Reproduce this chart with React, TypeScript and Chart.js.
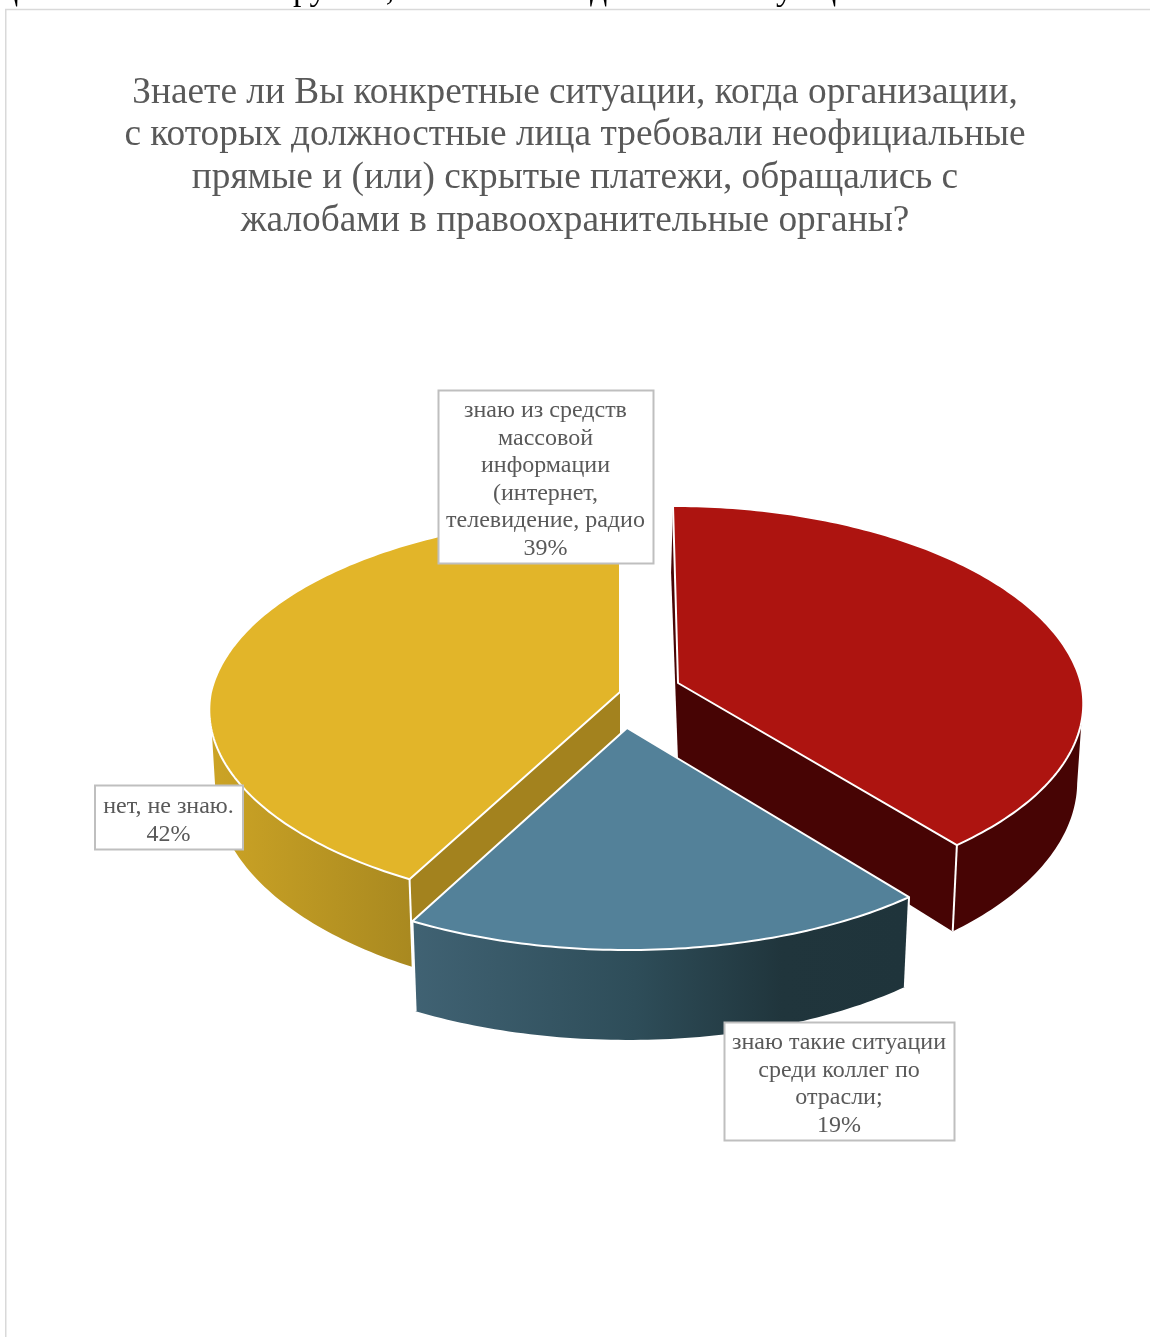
import React, { useEffect, useRef } from "react";
import { Chart, registerables } from "chart.js";

Chart.register(...registerables);

const categories = [
  "знаю из средств массовой информации (интернет, телевидение, радио",
  "знаю такие ситуации среди коллег по отрасли;",
  "нет, не знаю.",
];
const shares = [39, 19, 42];
const topColors = ["#ad1410", "#538199", "#e2b529"];
const titleLines = [
  "Знаете ли Вы конкретные ситуации, когда организации,",
  "с которых должностные лица требовали неофициальные",
  "прямые и (или) скрытые платежи, обращались с",
  "жалобами в правоохранительные органы?",
];
const labelLines = [
  ["знаю из средств", "массовой", "информации", "(интернет,", "телевидение, радио"],
  ["знаю такие ситуации", "среди коллег по", "отрасли;"],
  ["нет, не знаю."],
];

const GREY = "#595959";
const FONT = '"Liberation Serif", "Times New Roman", serif';
const P = 0.1155;
const TAU = Math.PI * 2;

// Geometry of the tilted pie, per slice
const sliceGeo = [
  { ax: 678, ay: 683, R: 403, kBack: 197.5, kFront: 191.6, leanBack: -5, leanFront: -4, flat: 0, bottomBack: -2, inner: "#470404", stops: [[0, "#470404"], [1, "#470404"]], gx: [900, 1090], drawOrder: 1 },
  { ax: 627, ay: 728, R: 402, kBack: 196.4, kFront: 196.4, leanBack: 0, leanFront: 1, flat: 7.4, bottomBack: 0, inner: "#1f343b", stops: [[0, "#406273"], [0.45, "#2e4d59"], [0.75, "#20353c"], [1, "#1f343b"]], gx: [414, 905], drawOrder: 2 },
  { ax: 620, ay: 692, R: 409, kBack: 196.4, kFront: 192, leanBack: 0, leanFront: 10, flat: 0, bottomBack: 0, inner: "#a3821e", stops: [[0, "#cba325"], [1, "#a98920"]], gx: [215, 411], drawOrder: 0 },
];

const labelBoxes = [
  { x: 438.5, y: 390.5, w: 215, h: 173, cy: 411 },
  { x: 724.5, y: 1022.5, w: 230, h: 118, cy: 1043 },
  { x: 95, y: 785.5, w: 148, h: 64, cy: 807 },
];

type Geo = (typeof sliceGeo)[number];

function pt(g: Geo, theta: number, bottom: boolean) {
  const u = Math.sin(theta);
  const v = -Math.cos(theta);
  const s = 1 / (1 - P * v);
  const k = v > 0 ? g.kFront : g.kBack;
  const lean = v > 0 ? g.leanFront : g.leanBack;
  const flat = v > 0 ? g.flat * u * u : 0;
  let dx = g.R * u * s + lean * Math.abs(v);
  let dy = k * v * s + flat;
  if (bottom) {
    dx *= 0.985;
    if (v < 0) dx += g.bottomBack * Math.abs(v);
    dy = dy * 1.058 + 77 + flat;
  }
  return { x: g.ax + dx, y: g.ay + dy };
}

function apex(g: Geo, bottom: boolean) {
  return { x: g.ax, y: g.ay + (bottom ? 77 : 0) };
}

function arcPath(ctx: CanvasRenderingContext2D, g: Geo, a: number, b: number, bottom: boolean, first: boolean) {
  const n = Math.max(2, Math.ceil(Math.abs(b - a) * 60));
  for (let i = 0; i <= n; i++) {
    const p = pt(g, a + ((b - a) * i) / n, bottom);
    if (i === 0 && first) ctx.moveTo(p.x, p.y);
    else ctx.lineTo(p.x, p.y);
  }
}

function edgeWall(ctx: CanvasRenderingContext2D, g: Geo, th: number) {
  const a = apex(g, false);
  const b = pt(g, th, false);
  const c = pt(g, th, true);
  const d = apex(g, true);
  ctx.beginPath();
  ctx.moveTo(a.x, a.y);
  ctx.lineTo(b.x, b.y);
  ctx.lineTo(c.x, c.y);
  ctx.lineTo(d.x, d.y);
  ctx.closePath();
  ctx.fillStyle = g.inner;
  ctx.fill();
}

const pie3d = {
  id: "pie3d",
  beforeDatasetsDraw(chart: any) {
    const ctx: CanvasRenderingContext2D = chart.ctx;
    const arcs = chart.getDatasetMeta(0).data;
    const order = sliceGeo.map((g, i) => ({ g, i })).sort((x, y) => x.g.drawOrder - y.g.drawOrder);
    ctx.save();
    ctx.lineJoin = "round";
    for (const { g, i } of order) {
      const a0 = arcs[i].startAngle + Math.PI / 2;
      const a1 = arcs[i].endAngle + Math.PI / 2;
      const eps = 1e-6;
      if (Math.sin(a0) <= eps) edgeWall(ctx, g, a0);
      if (Math.sin(a1) > eps) edgeWall(ctx, g, a1);
      // outer wall, only the part that faces the viewer
      const topA = Math.max(a0, 1.772), topB = Math.min(a1, TAU - 1.772);
      const botA = Math.max(a0, 1.686), botB = Math.min(a1, TAU - 1.686);
      if (topB > topA) {
        const grad = ctx.createLinearGradient(g.gx[0], 0, g.gx[1], 0);
        for (const [o, c] of g.stops) grad.addColorStop(o as number, c as string);
        ctx.beginPath();
        arcPath(ctx, g, topA, topB, false, true);
        arcPath(ctx, g, botB, botA, true, false);
        ctx.closePath();
        ctx.fillStyle = grad;
        ctx.fill();
        // white corner lines
        ctx.strokeStyle = "#ffffff";
        ctx.lineWidth = 2;
        for (const th of [a0, a1]) {
          if (th >= topA && th <= topB) {
            const p = pt(g, th, false);
            const q = pt(g, th, true);
            ctx.beginPath();
            ctx.moveTo(p.x, p.y);
            ctx.lineTo(q.x, q.y);
            ctx.stroke();
          }
        }
      }
      // top surface
      const ap = apex(g, false);
      ctx.beginPath();
      ctx.moveTo(ap.x, ap.y);
      arcPath(ctx, g, a0, a1, false, false);
      ctx.closePath();
      ctx.fillStyle = chart.data.datasets[0].backgroundColor[i];
      ctx.fill();
      ctx.strokeStyle = "#ffffff";
      ctx.lineWidth = 2;
      ctx.stroke();
    }
    ctx.restore();
    return false;
  },
  afterDraw(chart: any) {
    const ctx: CanvasRenderingContext2D = chart.ctx;
    ctx.save();
    // page frame
    ctx.strokeStyle = "#d9d9d9";
    ctx.lineWidth = 1.5;
    ctx.beginPath();
    ctx.moveTo(5.75, 1337);
    ctx.lineTo(5.75, 9.5);
    ctx.lineTo(1150, 9.5);
    ctx.stroke();
    // clipped line of the page text above the chart
    ctx.fillStyle = "#000000";
    ctx.font = `34px ${FONT}`;
    ctx.textAlign = "left";
    ctx.textBaseline = "alphabetic";
    ctx.fillText("ц", 0, 0);
    ctx.fillText("руппы,", 293, 0);
    ctx.fillText("д", 590, 0);
    ctx.fillText("у", 776, 0);
    ctx.fillText("ц", 818, 0);
    // data labels
    labelBoxes.forEach((b, i) => {
      ctx.fillStyle = "#ffffff";
      ctx.fillRect(b.x, b.y, b.w, b.h);
      ctx.strokeStyle = "#bfbfbf";
      ctx.lineWidth = 2;
      ctx.strokeRect(b.x, b.y, b.w, b.h);
      ctx.fillStyle = GREY;
      ctx.font = `24px ${FONT}`;
      ctx.textAlign = "center";
      ctx.textBaseline = "middle";
      const lines = [...labelLines[i], `${chart.data.datasets[0].data[i]}%`];
      lines.forEach((t, j) => ctx.fillText(t, b.x + b.w / 2 - 0.5, b.cy + j * 27.45));
    });
    ctx.restore();
  },
};

export default function App() {
  const ref = useRef<HTMLCanvasElement>(null);
  useEffect(() => {
    const chart = new Chart(ref.current as HTMLCanvasElement, {
      type: "pie",
      data: {
        labels: categories,
        datasets: [{ data: shares, backgroundColor: topColors, borderColor: "#ffffff" }],
      },
      options: {
        animation: false,
        responsive: false,
        devicePixelRatio: 1,
        plugins: {
          legend: { display: false },
          tooltip: { enabled: false },
          title: {
            display: true,
            text: titleLines,
            color: GREY,
            font: { family: FONT, size: 37.35, weight: "normal", lineHeight: 1.145 },
            padding: { top: 71.5, bottom: 10 },
          },
        },
      },
      plugins: [pie3d],
    } as any);
    return () => chart.destroy();
  }, []);
  return (
    <canvas
      ref={ref}
      width={1150}
      height={1337}
      style={{ position: "absolute", left: 0, top: 0, width: 1150, height: 1337, display: "block" }}
    />
  );
}
